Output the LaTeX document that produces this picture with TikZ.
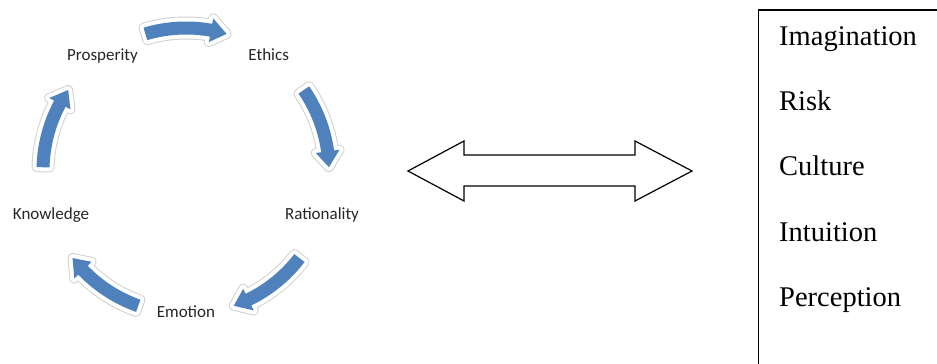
\documentclass[tikz,border=0pt]{standalone}
\usepackage{fontspec}
\setmainfont{Liberation Serif}
\newfontfamily\calfont{Carlito}
\usetikzlibrary{calc}
\definecolor{cycblue}{HTML}{4F81BD}
\tikzset{
  glowout/.style={draw=black!18, line width=10, line join=round},
  glowin/.style={draw=white, line width=8, line join=round},
  arrowfill/.style={fill=cycblue},
  cyclabel/.style={font=\calfont\fontsize{17}{20}\selectfont, text=black!85, anchor=base, inner sep=0},
  listitem/.style={font=\fontsize{28.5}{34}\selectfont, anchor=base west, inner sep=0},
}
\newcommand\cycarrow[1]{%
  \pgfmathsetmacro\aA{#1+16.5}%
  \pgfmathsetmacro\aB{#1-16.5}%
  \pgfmathsetmacro\aH{#1-16.5+6.4}%
  \foreach \st in {glowout,glowin,arrowfill}{%
    \path[\st] ($(C)+(\aA:149.5)$) arc[start angle=\aA, end angle=\aH, radius=149.5]
      -- ($(C)+(\aH:155)$) -- ($(C)+(\aB:143)$) -- ($(C)+(\aH:131)$)
      -- ($(C)+(\aH:136.5)$) arc[start angle=\aH, end angle=\aA, radius=136.5] -- cycle;
  }%
}
\begin{document}
\begin{tikzpicture}[x=1pt,y=1pt]
\clip (0,0) rectangle (937,364);
\coordinate (C) at (186,193);
% cycle arrows
\cycarrow{90}
\cycarrow{18}
\cycarrow{-54}
\cycarrow{-126}
\cycarrow{162}
% cycle labels
\node[cyclabel] (prosperity) at (102.5,303) {Prosperity};
\node[cyclabel] (ethics) at (268.7,303) {Ethics};
\node[cyclabel] (rationality) at (322,144) {Rationality};
\node[cyclabel] (knowledge) at (51,144) {Knowledge};
\node[cyclabel] (emotion) at (186,46) {Emotion};
% double arrow
\draw[line width=1.2, line join=miter, fill=white]
  (408,193) -- (464,223) -- (464,209) -- (635,209) -- (635,223) -- (692,193)
  -- (635,163) -- (635,178) -- (464,178) -- (464,163) -- cycle;
% box
\draw[line width=1.5] (758.5,-10) rectangle (960,354);
\node[listitem] (imagination) at (779,318) {Imagination};
\node[listitem] (risk) at (779,253) {Risk};
\node[listitem] (culture) at (779,188) {Culture};
\node[listitem] (intuition) at (779,122) {Intuition};
\node[listitem] (perception) at (779,57) {Perception};
\end{tikzpicture}
\end{document}
